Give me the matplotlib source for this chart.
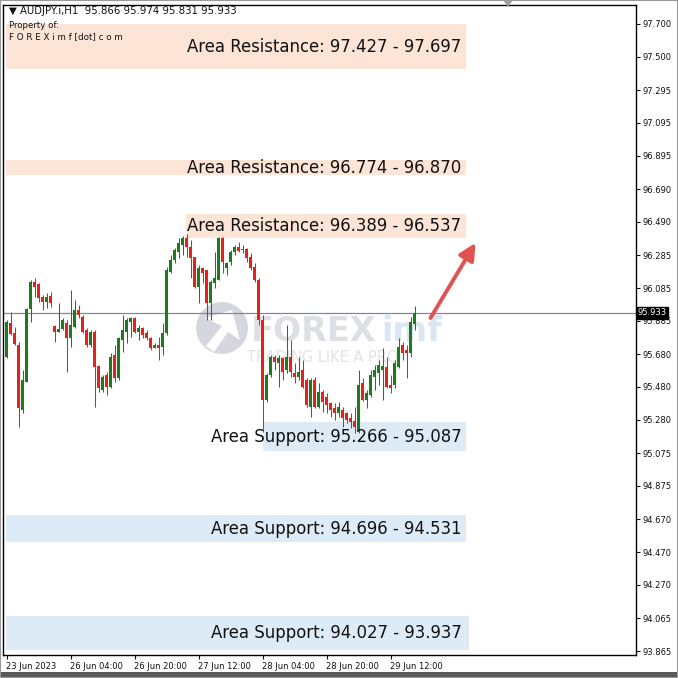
import numpy as np
import matplotlib
matplotlib.use('Agg')
import matplotlib.pyplot as plt
import matplotlib.transforms as mtransforms
from matplotlib.patches import Rectangle, Ellipse, Polygon

# AUDJPY H1 candles (bar 0 = 23 Jun 2023)
opens = [95.664, 95.871, 95.810, 95.737, 95.339, 95.511, 95.957, 96.122, 96.110, 96.031,
         96.000, 96.037, 95.853, 95.816, 95.835, 95.871, 95.780, 95.847, 95.951, 95.908,
         95.829, 95.737, 95.816, 95.609, 95.462, 95.553, 95.480, 95.676, 95.535, 95.767,
         95.816, 95.878, 95.902, 95.816, 95.841, 95.810, 95.780, 95.719, 95.737, 95.725,
         95.810, 96.183, 96.257, 96.306, 96.349, 96.392, 96.337, 96.275, 96.092, 96.208,
         96.196, 95.994, 96.116, 96.134, 96.392, 96.208, 96.245, 96.306, 96.337, 96.318,
         96.324, 96.275, 96.214, 96.134, 95.890, 95.400, 95.553, 95.664, 95.627, 95.658,
         95.584, 95.664, 95.566, 95.541, 95.584, 95.523, 95.358, 95.523, 95.358, 95.450,
         95.419, 95.382, 95.352, 95.321, 95.339, 95.321, 95.290, 95.272, 95.205, 95.504,
         95.400, 95.431, 95.541, 95.566, 95.584, 95.602, 95.492, 95.492, 95.602, 95.737,
         95.706, 95.688, 95.866]
highs = [95.890, 95.939, 95.847, 95.755, 95.584, 95.963, 96.134, 96.147, 96.116, 96.043,
         96.055, 96.061, 95.859, 95.994, 95.902, 95.890, 96.073, 96.012, 95.982, 95.920,
         95.841, 95.829, 95.829, 95.615, 95.553, 95.572, 95.688, 95.737, 95.786, 95.920,
         95.902, 95.908, 95.908, 95.859, 95.847, 95.829, 95.786, 95.749, 95.786, 95.871,
         96.214, 96.287, 96.330, 96.392, 96.404, 96.416, 96.379, 96.275, 96.226, 96.214,
         96.196, 96.134, 96.306, 96.398, 96.398, 96.245, 96.318, 96.349, 96.367, 96.349,
         96.330, 96.300, 96.239, 96.147, 95.920, 95.566, 95.676, 95.676, 95.676, 95.664,
         95.859, 95.767, 95.627, 95.664, 95.645, 95.535, 95.535, 95.541, 95.504, 95.462,
         95.443, 95.388, 95.382, 95.388, 95.358, 95.327, 95.321, 95.358, 95.584, 95.535,
         95.462, 95.584, 95.615, 95.645, 95.719, 95.664, 95.553, 95.645, 95.780, 95.755,
         95.737, 95.908, 95.974]
lows = [95.658, 95.798, 95.737, 95.236, 95.321, 95.511, 95.877, 96.031, 96.000, 95.951,
        95.963, 95.969, 95.755, 95.816, 95.829, 95.572, 95.725, 95.841, 95.902, 95.810,
        95.725, 95.725, 95.358, 95.450, 95.450, 95.431, 95.474, 95.511, 95.523, 95.694,
        95.749, 95.786, 95.810, 95.767, 95.780, 95.767, 95.706, 95.719, 95.645, 95.676,
        95.798, 96.177, 96.238, 96.269, 96.287, 96.275, 96.147, 96.086, 95.994, 96.116,
        95.890, 95.890, 96.086, 96.134, 96.177, 96.165, 96.226, 96.287, 96.306, 96.300,
        96.245, 96.196, 96.122, 95.859, 95.205, 95.388, 95.541, 95.584, 95.480, 95.523,
        95.566, 95.541, 95.504, 95.523, 95.474, 95.358, 95.297, 95.352, 95.352, 95.327,
        95.321, 95.297, 95.278, 95.297, 95.236, 95.260, 95.229, 95.199, 95.199, 95.394,
        95.352, 95.419, 95.462, 95.492, 95.400, 95.474, 95.443, 95.474, 95.596, 95.645,
        95.535, 95.664, 95.831]
closes = [95.877, 95.804, 95.743, 95.352, 95.523, 95.957, 96.122, 96.092, 96.024, 96.000,
          96.031, 95.994, 95.816, 95.835, 95.890, 95.780, 95.859, 95.951, 95.920, 95.816,
          95.737, 95.816, 95.602, 95.474, 95.541, 95.480, 95.664, 95.535, 95.780, 95.829,
          95.890, 95.902, 95.816, 95.841, 95.798, 95.780, 95.719, 95.737, 95.719, 95.810,
          96.196, 96.257, 96.318, 96.361, 96.392, 96.337, 96.269, 96.092, 96.208, 96.177,
          95.994, 96.122, 96.147, 96.392, 96.245, 96.239, 96.306, 96.337, 96.312, 96.324,
          96.269, 96.208, 96.134, 95.890, 95.400, 95.553, 95.664, 95.633, 95.658, 95.572,
          95.664, 95.572, 95.541, 95.572, 95.480, 95.370, 95.523, 95.358, 95.450, 95.388,
          95.370, 95.339, 95.321, 95.358, 95.290, 95.278, 95.266, 95.236, 95.492, 95.400,
          95.443, 95.553, 95.584, 95.615, 95.609, 95.480, 95.474, 95.627, 95.725, 95.688,
          95.688, 95.877, 95.933]

last_price = 95.933
header = '\u25bc AUDJPY.i,H1  95.866 95.974 95.831 95.933'

# support / resistance zones: top, bottom, first bar, last bar, label
zone_top = [97.697, 96.870, 96.537, 95.266, 94.696, 94.080]
zone_bot = [97.427, 96.774, 96.389, 95.087, 94.531, 93.872]
zone_start = [-0.25, -0.25, 44.75, 64.0, -0.25, -0.25]
zone_end = [114.75, 114.75, 114.75, 114.75, 114.75, 115.5]
zone_kind = ['res', 'res', 'res', 'sup', 'sup', 'sup']
zone_text = ['Area Resistance: 97.427 - 97.697',
             'Area Resistance: 96.774 - 96.870',
             'Area Resistance: 96.389 - 96.537',
             'Area Support: 95.266 - 95.087',
             'Area Support: 94.696 - 94.531',
             'Area Support: 94.027 - 93.937']

ytick_vals = [97.700, 97.500, 97.295, 97.095, 96.895, 96.690, 96.490, 96.285, 96.085, 95.885,
              95.680, 95.480, 95.280, 95.075, 94.875, 94.670, 94.470, 94.270, 94.065, 93.865]
xtick_bars = [0, 16, 32, 48, 64, 80, 96]
xtick_labels = ['23 Jun 2023', '26 Jun 04:00', '26 Jun 20:00', '27 Jun 12:00',
                '28 Jun 04:00', '28 Jun 20:00', '29 Jun 12:00']

# arrow (bar, price)
arrow_from = (106.0, 95.902)
arrow_to = (117.25, 96.361)

W = H = 678
fig = plt.figure(figsize=(6.78, 6.78), dpi=100)
fig.patch.set_facecolor('white')
ax = fig.add_axes([3 / W, 1 - 655 / H, 633 / W, 650 / H])
ax.set_facecolor('white')

px = lambda x, y: (x / W, 1 - y / H)

# zones
for top, bot, x0, x1, kind in zip(zone_top, zone_bot, zone_start, zone_end, zone_kind):
    col = '#fce4d6' if kind == 'res' else '#ddebf7'
    ax.add_patch(Rectangle((x0, bot), x1 - x0, top - bot, facecolor=col,
                           edgecolor='none', zorder=1))
for top, bot, txt in zip(zone_top, zone_bot, zone_text):
    ax.text(113.75, (top + bot) / 2, txt, ha='right', va='center',
            fontsize=11.9, color='#111111', zorder=4)

# watermark
ax.add_patch(Ellipse(px(222, 328), 52 / W, 52 / H, transform=fig.transFigure,
                     facecolor='#d6d7de', edgecolor='none', zorder=1.5))
ax.add_patch(Polygon([px(205, 318), px(232, 310), px(240, 340), px(228, 332),
                      px(214, 352), px(206, 346), px(222, 326)],
                     closed=True, transform=fig.transFigure, facecolor='white',
                     edgecolor='none', zorder=1.6))
ax.text(*px(251, 331), 'FOREX', transform=fig.transFigure, fontsize=24,
        fontweight='bold', color='#dedfe5', va='center', ha='left', zorder=1.5)
ax.text(*px(381, 331), 'imf', transform=fig.transFigure, fontsize=24,
        fontweight='bold', color='#dbe6f4', va='center', ha='left', zorder=1.5)
ax.text(*px(247, 358), 'TRADING LIKE A PRO', transform=fig.transFigure, fontsize=10.5,
        color='#e2e2e8', va='center', ha='left', zorder=1.5)

# current price line
ax.axhline(last_price, color='#7f8a96', lw=0.9, zorder=1.8)

# candles
o = np.array(opens)
h = np.array(highs)
l = np.array(lows)
c = np.array(closes)
idx = np.arange(len(o))
up = c >= o
cols = np.where(up, '#1f7a1f', '#e0241c')
ax.vlines(idx, l, h, colors=cols, lw=0.75, zorder=2)
body_bot = np.minimum(o, c)
body_h = np.maximum(np.abs(c - o), 0.005)
ax.bar(idx, body_h, bottom=body_bot, width=0.75, color=cols, edgecolor='none',
       antialiased=False, zorder=2.1)

# arrow
ax.annotate('', xy=arrow_to, xytext=arrow_from,
            arrowprops=dict(arrowstyle='-|>,head_length=1.0,head_width=0.5',
                            color='#e05252', lw=2.8, shrinkA=0, shrinkB=0),
            zorder=5)

# 4 px per bar, bar centres on pixel centres
ax.set_xlim(-0.875, 157.375)
ax.set_ylim(93.841, 97.816)

ax.yaxis.tick_right()
ax.set_yticks(ytick_vals)
ax.set_yticklabels(['%.3f' % v for v in ytick_vals])
ax.set_xticks(xtick_bars)
ax.set_xticklabels(xtick_labels)
for lbl in ax.get_xticklabels():
    lbl.set_ha('left')
ax.tick_params(axis='y', direction='out', length=3, width=0.8, pad=2, labelsize=6, colors='#111111')
ax.tick_params(axis='x', direction='out', length=3, width=0.8, pad=2, labelsize=6, colors='#111111')
for s in ax.spines.values():
    s.set_color('black')
    s.set_linewidth(1.0)

# price tag on the axis
trans = mtransforms.blended_transform_factory(ax.transAxes, ax.transData)
ax.text(1.003, last_price, '95.933', transform=trans, ha='left', va='center',
        fontsize=6, color='white', zorder=6,
        bbox=dict(boxstyle='square,pad=0.15', facecolor='black', edgecolor='black'))

# header text
fig.text(*px(9, 11), header, fontsize=7.3, va='center', ha='left', color='#111111')
fig.text(*px(9, 25), 'Property of:', fontsize=6.2, va='center', ha='left', color='#111111')
fig.text(*px(9, 37), 'F O R E X i m f [dot] c o m', fontsize=6.3, va='center', ha='left',
         color='#111111')

# window chrome
fig.patches.append(Polygon([px(503, 0), px(513, 0), px(508, 7)], closed=True,
                           transform=fig.transFigure, facecolor='#a0a0a0',
                           edgecolor='none'))
fig.patches.append(Rectangle((0, 0), 1, 6 / H, transform=fig.transFigure,
                             facecolor='#5a5a5a', edgecolor='none'))
fig.patches.append(Rectangle((0, 0), 1, 1, transform=fig.transFigure, fill=False,
                             edgecolor='#9a9a9a', lw=1.5))

fig.savefig('out.png', dpi=100)
